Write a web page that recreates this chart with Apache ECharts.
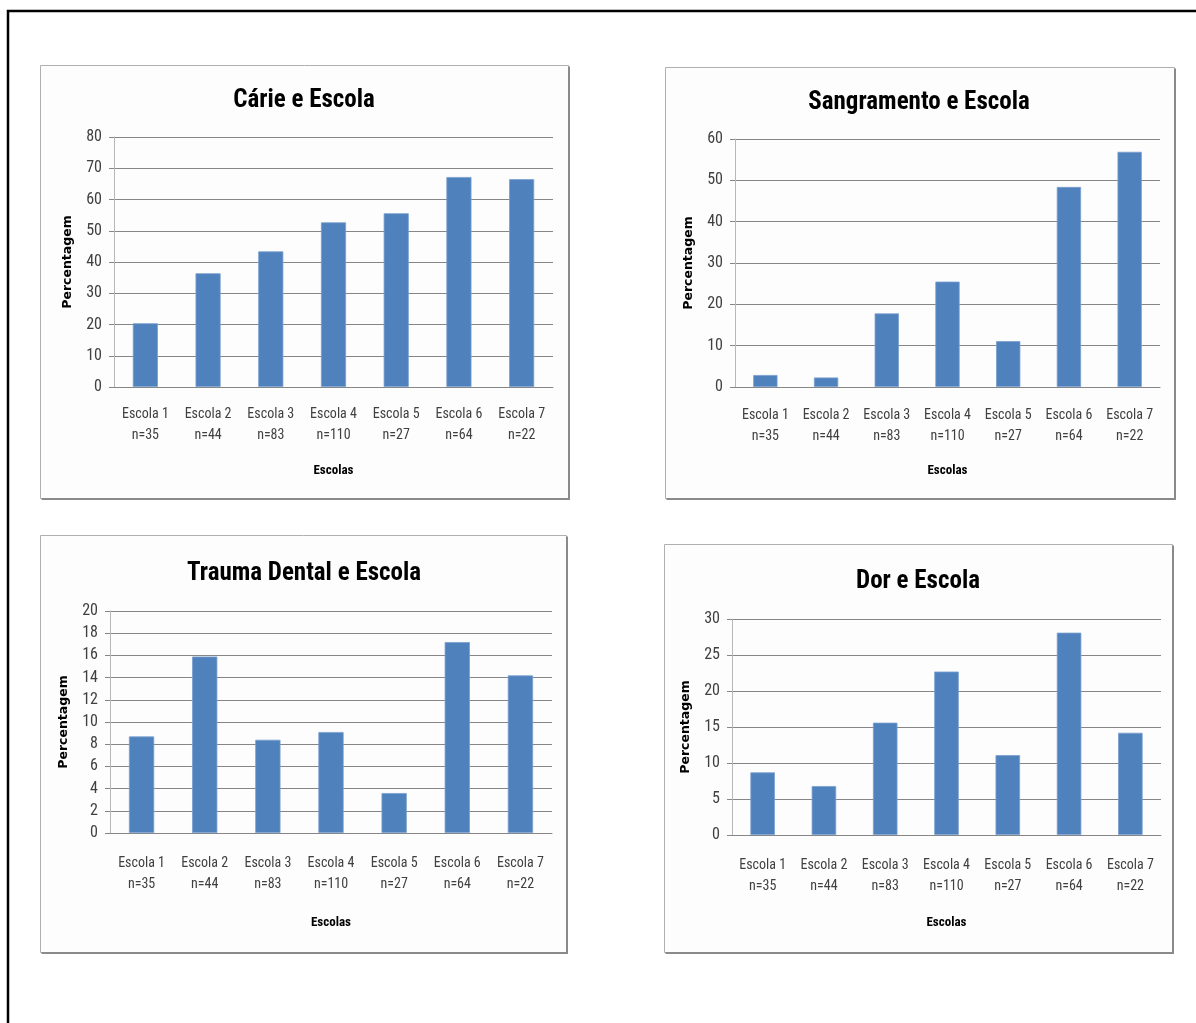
<!DOCTYPE html>
<html>
<head>
<meta charset="utf-8">
<script src="https://cdn.jsdelivr.net/npm/echarts@6/dist/echarts.min.js"></script>
<style>
  html, body { margin: 0; padding: 0; background: #ffffff; }
  #chart { width: 1196px; height: 1023px; }
</style>
</head>
<body>
<div id="chart"></div>
<script>
// Schools and sample sizes shared by all four panels
const escolas = ['Escola 1', 'Escola 2', 'Escola 3', 'Escola 4', 'Escola 5', 'Escola 6', 'Escola 7'];
const amostras = ['n=35', 'n=44', 'n=83', 'n=110', 'n=27', 'n=64', 'n=22'];

// Percentages per school
const carie = [20.4, 36.4, 43.4, 52.7, 55.6, 67.2, 66.5];
const sangramento = [2.9, 2.3, 17.8, 25.5, 11.1, 48.4, 56.9];
const trauma = [8.7, 15.9, 8.4, 9.1, 3.6, 17.2, 14.2];
const dor = [8.7, 6.8, 15.6, 22.7, 11.1, 28.1, 14.2];

// Y axis scales
const yMax = [80, 60, 20, 30];
const yStep = [10, 10, 2, 5];

const titulos = ['Cárie e Escola', 'Sangramento e Escola', 'Trauma Dental e Escola', 'Dor e Escola'];
const series = [carie, sangramento, trauma, dor];

const categorias = escolas.map((e, i) => e + '\n' + amostras[i]);

// Panel geometry (pixels)
const paineis = [
  { box: [40.5, 65.5, 528, 433], grid: { left: 114, top: 137, width: 439, height: 250 }, title: [299, 98], labelGap: 17, nameGap: 77 },
  { box: [665.5, 67.5, 509, 431], grid: { left: 735, top: 139, width: 425, height: 248 }, title: [914, 100], labelGap: 18, nameGap: 77 },
  { box: [40.5, 535.5, 526, 417], grid: { left: 110, top: 611, width: 442, height: 222 }, title: [299, 571], labelGap: 20, nameGap: 83 },
  { box: [664.5, 544.5, 508, 408], grid: { left: 732, top: 619, width: 429, height: 216 }, title: [913, 579], labelGap: 20, nameGap: 81 }
];

const narrow = "'Liberation Sans Narrow', 'Arial Narrow', 'Roboto Condensed', sans-serif";
const labelColor = '#404040';

const grid = [], xAxis = [], yAxis = [], title = [], seriesList = [], graphic = [];

// Outer frame
graphic.push({
  type: 'polyline', silent: true,
  shape: { points: [[8, 1023], [8, 11], [1196, 11]] },
  style: { stroke: '#000', lineWidth: 2.5, fill: null }
});

paineis.forEach((p, i) => {
  const [bx, by, bw, bh] = p.box;
  graphic.push({
    type: 'rect', silent: true, z: -1,
    shape: { x: bx, y: by, width: bw, height: bh },
    style: { fill: '#fdfdfd', stroke: '#b0b0b0', lineWidth: 1 }
  });
  graphic.push({
    type: 'polyline', silent: true, z: -1,
    shape: { points: [[bx + bw + 0.5, by + 1], [bx + bw + 0.5, by + bh + 0.5], [bx + 1, by + bh + 0.5]] },
    style: { stroke: '#8a8a8a', lineWidth: 2, fill: null }
  });

  title.push({
    text: titulos[i],
    left: p.title[0], top: p.title[1] - 15,
    textAlign: 'center',
    textStyle: { fontFamily: narrow, fontWeight: 'bold', fontSize: 25, color: '#000' }
  });

  grid.push(Object.assign({ containLabel: false }, p.grid));

  xAxis.push({
    type: 'category', gridIndex: i, data: categorias,
    name: 'Escolas', nameLocation: 'middle', nameGap: p.nameGap,
    nameTextStyle: { fontFamily: narrow, fontWeight: 'bold', fontSize: 13, color: '#000' },
    axisLine: { lineStyle: { color: '#868686', width: 1 } },
    axisTick: { show: false },
    axisLabel: { fontFamily: narrow, fontSize: 14, color: labelColor, lineHeight: 21, margin: p.labelGap, interval: 0 }
  });

  yAxis.push({
    type: 'value', gridIndex: i, min: 0, max: yMax[i], interval: yStep[i],
    name: 'Percentagem', nameLocation: 'middle', nameRotate: 90, nameGap: 40,
    nameTextStyle: { fontFamily: "'DejaVu Sans', sans-serif", fontWeight: 'bold', fontSize: 12.5, color: '#000' },
    axisLine: { show: true, lineStyle: { color: '#b8b8b8', width: 1 } },
    axisTick: { show: true, inside: false, length: 5, lineStyle: { color: '#868686' } },
    splitLine: { show: true, lineStyle: { color: '#868686', width: 1 } },
    axisLabel: { fontFamily: narrow, fontSize: 16, color: labelColor, margin: 12 }
  });

  seriesList.push({
    type: 'bar', xAxisIndex: i, yAxisIndex: i,
    data: series[i],
    barCategoryGap: '60%',
    itemStyle: { color: '#4F81BD', borderColor: '#7aa0cf', borderWidth: 0.8 },
    silent: true
  });
});

const chart = echarts.init(document.getElementById('chart'), null, { renderer: 'canvas' });
chart.setOption({
  animation: false,
  backgroundColor: '#ffffff',
  title, grid, xAxis, yAxis,
  series: seriesList,
  graphic
});
</script>
</body>
</html>
